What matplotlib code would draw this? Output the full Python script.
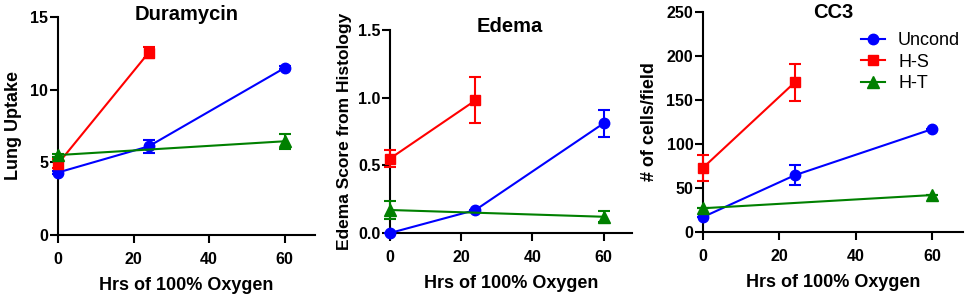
import matplotlib
matplotlib.use("Agg")
import matplotlib.pyplot as plt
import numpy as np

plt.rcParams['font.family'] = ['Liberation Sans', 'DejaVu Sans']

# Data
uncond_x = [0, 24, 60]
hs_x = [0, 24]
ht_x = [0, 60]

dura_uncond = [4.3, 6.1, 11.5]
dura_uncond_err = [0.1, 0.45, 0.1]
dura_hs = [4.9, 12.55]
dura_hs_err = [0.3, 0.37]
dura_ht = [5.5, 6.45]
dura_ht_err = [0.1, 0.5]

edema_uncond = [0.0, 0.17, 0.81]
edema_uncond_err = [0.0, 0.0, 0.10]
edema_hs = [0.55, 0.98]
edema_hs_err = [0.06, 0.17]
edema_ht = [0.17, 0.12]
edema_ht_err = [0.07, 0.04]

cc3_uncond = [17, 64.5, 117]
cc3_uncond_err = [0, 11.5, 0]
cc3_hs = [73, 170]
cc3_hs_err = [15, 21]
cc3_ht = [27, 42]
cc3_ht_err = [0, 0]

titles = ["Duramycin", "Edema", "CC3"]
ylabels = ["Lung Uptake", "Edema Score from Histology", "# of cells/field"]
xlabel = "Hrs of 100% Oxygen"
series_names = ["Uncond", "H-S", "H-T"]
xticks = [0, 20, 40, 60]
yticks_list = [[0, 5, 10, 15], [0.0, 0.5, 1.0, 1.5], [0, 50, 100, 150, 200, 250]]
ytick_labels = [["0", "5", "10", "15"], ["0.0", "0.5", "1.0", "1.5"],
                ["0", "50", "100", "150", "200", "250"]]

fig = plt.figure(figsize=(9.69, 2.95), dpi=100)
W, H = 969, 295
boxes = [(58, 315, 17, 235), (390, 632, 30, 233), (703, 963, 12, 232)]
title_pos = [(187, 19.5), (510, 32), (833, 18)]
ylabel_pad = [6, 4, 6]
ylabel_size = [13, 12.5, 13]

panels = [
    (dura_uncond, dura_uncond_err, dura_hs, dura_hs_err, dura_ht, dura_ht_err),
    (edema_uncond, edema_uncond_err, edema_hs, edema_hs_err, edema_ht, edema_ht_err),
    (cc3_uncond, cc3_uncond_err, cc3_hs, cc3_hs_err, cc3_ht, cc3_ht_err),
]

colors = ['#0000ff', '#ff0000', '#008000']
markers = ['o', 's', '^']
msizes = [7.5, 7.5, 8]

for i, (l, r, t, b) in enumerate(boxes):
    ax = fig.add_axes([l / W, 1 - b / H, (r - l) / W, (b - t) / H])
    u, ue, s, se, g, ge = panels[i]
    data = [(uncond_x, u, ue), (hs_x, s, se), (ht_x, g, ge)]
    hl = []
    for k, (xs, ys, es) in enumerate(data):
        eb = ax.errorbar(xs, ys, yerr=es, color=colors[k], fmt='none',
                         capsize=4, capthick=1.5, elinewidth=1.5, zorder=3 + k)
        for art in eb.lines[1]:
            art.set_clip_on(False)
        for art in eb.lines[2]:
            art.set_clip_on(False)
        ln, = ax.plot(xs, ys, color=colors[k], marker=markers[k], markersize=msizes[k],
                      lw=1.5, label=series_names[k], clip_on=False, zorder=3 + k)
        hl.append(ln)
    ax.set_xlim(0, 68)
    yt = yticks_list[i]
    ax.set_ylim(yt[0], yt[-1])
    ax.set_xticks(xticks)
    ax.set_yticks(yt)
    ax.set_yticklabels(ytick_labels[i])
    for sp in ['top', 'right']:
        ax.spines[sp].set_visible(False)
    for sp in ['left', 'bottom']:
        ax.spines[sp].set_linewidth(1.5)
    ax.tick_params(direction='out', width=1.5, length=5.5, labelsize=11.5)
    ax.tick_params(axis='x', pad=7)
    ax.tick_params(axis='y', pad=1.5)
    for lab in ax.get_xticklabels() + ax.get_yticklabels():
        lab.set_fontweight('bold')
    cx, cy = title_pos[i]
    fig.text(cx / W, 1 - cy / H, titles[i], fontsize=14.5, fontweight='bold',
             ha='center', va='baseline')
    ax.set_xlabel(xlabel, fontsize=13, fontweight='bold', labelpad=7)
    ax.set_ylabel(ylabels[i], fontsize=ylabel_size[i], fontweight='bold',
                  labelpad=ylabel_pad[i])
    if i == 2:
        ax.legend(handles=hl, loc='upper left', bbox_to_anchor=(861 / W, 1 - 32 / H),
                  bbox_transform=fig.transFigure, frameon=False,
                  fontsize=13, handlelength=1.35, handletextpad=0.7,
                  labelspacing=0.25, borderaxespad=0, borderpad=0)

fig.savefig("out.png", dpi=100)
